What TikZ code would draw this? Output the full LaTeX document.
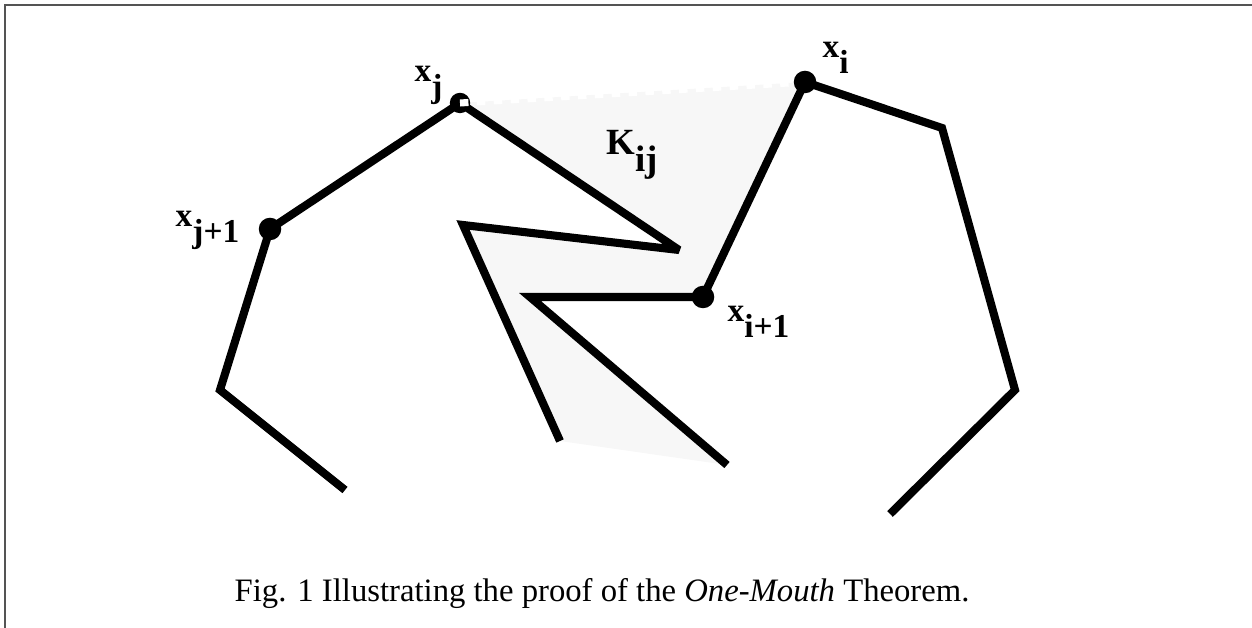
\documentclass[tikz,border=0pt]{standalone}
\usepackage{fontspec}
\setmainfont{Liberation Serif}
\usepackage{xcolor}
\newcommand{\vlabel}[2]{#1\raisebox{-0.45em}{#2}}

\tikzset{
  chain/.style={line width=2.3pt, line join=miter, miter limit=4},
  vdot/.style={fill=black},
  lbl/.style={anchor=base west, inner sep=0pt, font=\fontsize{9.5}{11}\selectfont\bfseries},
  frameline/.style={draw=black!67, line width=0.6pt},
}

\begin{document}
\begin{tikzpicture}[x=0.01cm,y=-0.01cm]
\useasboundingbox (0,0) rectangle (1252,628);
\draw[frameline] (1252,5) -- (5,5) -- (5,628);
\coordinate (a1) at (345,490);
\coordinate (a2) at (220,390);
\coordinate (xj1) at (270,229);
\coordinate (xj) at (460,103);
\coordinate (a3) at (679,250);
\coordinate (a4) at (463,225);
\coordinate (a5) at (560,441);
\coordinate (b1) at (727,465);
\coordinate (b2) at (530,297);
\coordinate (xi1) at (703,297);
\coordinate (xi) at (805,82);
\coordinate (b3) at (942,128);
\coordinate (b4) at (1015,390);
\coordinate (b5) at (890,514);
\fill[gray!6] (xj) -- (xi) -- (xi1) -- (b2) -- (b1) -- (a5) -- (a4) -- (a3) -- cycle;
\draw[chain] (a1) -- (a2) -- (xj1) -- (xj) -- (a3) -- (a4) -- (a5);
\draw[chain] (b1) -- (b2) -- (xi1) -- (xi) -- (b3) -- (b4) -- (b5);
\fill[vdot] (xj1) circle (3.2pt);
\fill[vdot] (xj) circle (2.9pt);
\fill[vdot] (xi) circle (3.2pt);
\fill[vdot] (xi1) circle (3.2pt);
\draw[white, line width=2pt, dash pattern=on 2.4pt off 2.4pt, shorten >=3.6pt] (xj) -- (xi);
\node[lbl] (lxj1) at (175,227) {\vlabel{x}{j+1}};
\node[lbl] (lxj) at (414,82) {\vlabel{x}{j}};
\node[lbl] (lxi) at (822,58) {\vlabel{x}{i}};
\node[lbl] (lxi1) at (727,322) {\vlabel{x}{i+1}};
\node[lbl, font=\fontsize{10.5}{12}\selectfont\bfseries] (lk) at (606,155) {\vlabel{K}{ij}};
\node[anchor=base west, inner sep=0pt, font=\fontsize{9.3}{11}\selectfont] (caption) at (234,601) {Fig. 1 Illustrating the proof of the \textit{One-Mouth} Theorem.};
\end{tikzpicture}
\end{document}
